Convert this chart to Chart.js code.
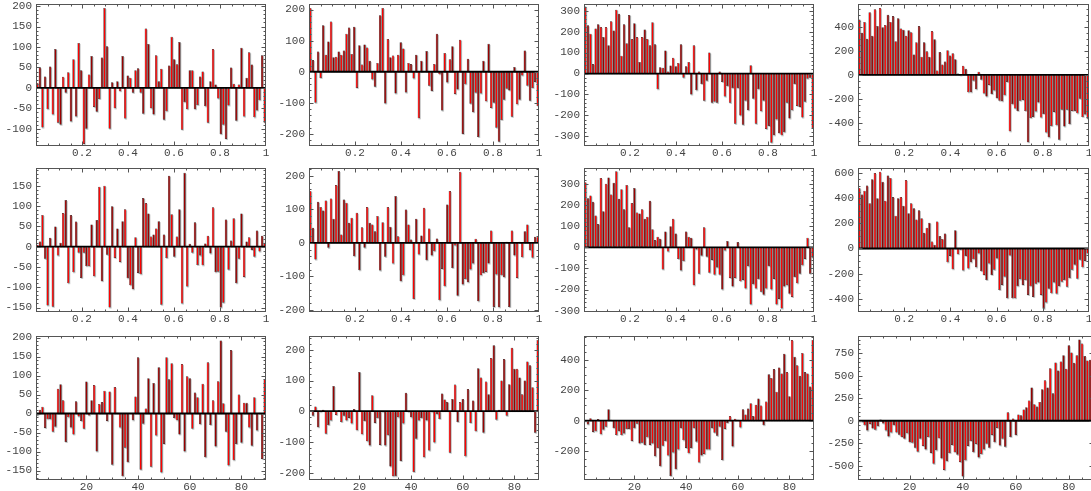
<!DOCTYPE html>
<html><head><meta charset="utf-8">
<script src="https://cdn.jsdelivr.net/npm/chart.js@4.4.0/dist/chart.umd.min.js"></script>
<style>
html,body{margin:0;padding:0;background:#fff;width:1091px;height:491px;overflow:hidden;position:relative}
canvas{position:absolute}
</style></head><body>
<script>
// ---------- data ----------
const CATEGORIES = Array.from({length: 89}, (_, i) => i + 1);
const X_TICKS_UNIT = [0.2, 0.4, 0.6, 0.8, 1];
const X_TICKS_INDEX = [20, 40, 60, 80];

const SERIES_A = [12,50,-97,28,-52,52,-65,95,-85,-90,27,-12,38,-82,70,-70,110,43,-137,-100,33,78,-47,-58,-27,74,195,102,-100,14,-50,16,-8,78,-75,30,25,-12,43,48,-12,-63,145,107,-50,-65,80,16,47,-78,-57,55,125,70,58,112,-102,-35,-52,43,43,-52,-42,28,40,-45,-85,16,95,8,-26,-113,-90,-125,-43,50,10,-80,8,98,-70,25,87,57,-72,-55,-30,80,-85];
const SERIES_B = [205,38,-100,65,-20,150,55,97,162,47,48,65,55,68,122,142,57,145,-52,85,23,88,78,35,-25,-48,28,182,205,-102,105,47,52,-70,55,95,75,-67,28,25,-22,55,-150,35,0,67,-45,-62,25,122,-8,-125,60,-35,40,82,-72,-57,103,-200,-40,42,-103,-130,-68,-210,-70,35,-95,90,-117,-100,-180,-225,-155,-90,-55,-60,-145,15,-105,-90,-12,68,-45,-93,-52,-33,-110];
const SERIES_C = [320,230,190,45,215,235,222,175,222,135,250,205,305,285,85,235,145,280,165,240,175,55,175,210,165,135,245,140,-75,30,28,110,10,38,75,35,50,140,-20,35,55,-100,135,-80,10,-50,-130,-35,100,-140,-135,-140,10,-40,-110,-60,-140,-70,-240,-70,-200,-245,-130,-175,40,-120,-240,-75,-180,-130,-265,-250,-330,-295,-220,-285,-295,-280,-140,-215,-175,-50,-155,-160,-210,-135,-25,-20,-260];
const SERIES_D = [460,350,440,300,520,325,545,405,555,395,415,500,440,490,280,470,385,375,325,370,355,170,270,405,150,270,195,150,365,295,35,190,85,110,205,160,180,130,10,-5,75,50,-145,-145,-50,-120,25,-40,-155,-180,-85,-160,-130,-195,-215,-220,-170,-60,-470,-245,-280,-300,-215,-210,-300,-560,-360,-350,-305,-230,-355,-325,-480,-520,-425,-310,-420,-540,-290,-430,-290,-410,-300,-300,-320,-200,-350,-330,-365];
const SERIES_E = [5,13,78,-30,-145,22,-148,50,-22,10,83,115,-90,78,-63,62,-15,-77,-15,-48,-48,55,-73,66,148,-85,150,-20,-150,100,-28,45,-38,63,92,-78,-95,-105,23,-65,-68,120,108,82,25,30,45,63,-143,30,-28,175,80,-25,25,92,-140,182,-98,7,-15,60,-45,-22,-46,8,27,-17,97,-63,-62,-150,-138,67,-57,15,70,-90,-30,82,-75,13,23,-8,-25,40,-12,27,10];
const SERIES_F = [155,45,-50,123,107,97,127,-15,133,72,173,215,25,130,120,60,75,-40,90,-82,47,-15,107,60,55,35,80,-83,62,-42,107,48,-62,140,20,-115,-97,100,55,10,-168,72,-35,22,105,-52,43,-38,-25,13,-172,-78,-130,115,155,-75,-8,-158,213,-125,-108,-118,-80,-62,12,-175,-97,-90,-87,-62,37,-192,-95,-193,-97,-103,3,-192,37,-38,-105,3,-43,35,55,-22,-45,18,18];
const SERIES_G = [308,232,245,215,150,110,328,170,300,330,250,305,360,230,275,180,295,95,210,280,165,160,180,135,145,220,85,35,50,40,-105,75,-20,100,135,65,-55,-110,-65,75,50,45,-180,-10,-125,-40,95,-45,-120,-60,-130,-95,-130,-200,-15,30,-145,-185,-145,25,-160,-155,-195,-90,-270,-175,-195,-150,-210,-225,-195,-90,-200,-150,-270,-245,-290,-185,-180,-220,-235,-140,-170,-125,-85,-55,45,-125,-50];
const SERIES_H = [480,430,460,500,360,550,600,400,610,530,380,580,560,410,260,400,410,340,545,280,360,320,230,305,240,125,165,205,55,30,215,100,75,120,-110,-60,-165,145,-45,-10,-175,-60,-160,-110,-85,-150,-40,-180,-210,-250,-120,-210,-170,-80,-330,-290,-225,-395,-55,-395,-395,-300,-245,-290,-250,-370,-300,-385,-280,-270,-370,-480,-430,-320,-355,-270,-360,-300,-265,-250,-305,-235,-170,-130,-240,-90,-150,-100,-40];
const SERIES_I = [-5,10,18,-38,-15,-15,-48,-35,65,77,35,-75,-10,-37,-55,32,-8,-20,-40,84,-5,35,75,-100,25,30,60,-20,58,-135,70,2,-37,-165,-90,-128,0,-18,45,148,-148,-27,13,93,-140,80,-58,122,-155,-80,148,90,132,-12,-18,-55,130,-100,98,93,-40,55,43,-28,78,-115,135,-30,35,-87,85,192,27,-48,-137,167,-123,-80,50,-77,28,28,-37,-85,43,-45,2,-120,90];
const SERIES_J = [0,-15,15,-52,-3,5,-73,-45,-30,82,-12,3,-35,-15,-30,-22,-40,7,-62,128,-75,-32,-98,-112,52,-38,-22,-110,-3,-112,-78,-180,-212,-212,-20,-162,-40,60,-3,-20,-198,-90,-30,-22,-150,-30,-128,-3,-102,-10,-25,58,38,30,-135,40,87,-35,30,40,-147,72,-38,35,-65,140,110,-70,97,55,173,215,-28,5,100,170,-15,88,207,138,138,110,55,100,162,150,78,-70,232];
const SERIES_K = [-5,-25,15,-75,-70,10,-90,-60,-40,75,5,-50,-95,-70,-95,-85,-55,-55,-135,-50,-20,-150,-145,-160,-110,-160,-150,-235,-180,-300,-165,-135,-230,-365,-210,-320,-190,-50,-130,-180,-215,-180,-50,-140,-275,-230,-220,-190,-190,-50,-80,-100,-40,-260,-55,-15,30,-170,12,5,-45,75,40,80,115,30,105,145,100,-30,125,305,280,340,190,350,310,440,320,160,530,420,365,295,445,320,310,225,530];
const SERIES_L = [-10,-15,-50,-110,-35,-85,-100,-60,15,-30,-110,-175,-130,-50,-130,-155,-180,-200,-140,-240,-245,-300,-345,-200,-280,-320,-180,-360,-480,-330,-195,-420,-550,-450,-360,-270,-350,-380,-460,-620,-440,-280,-225,-350,-260,-410,-370,-320,-255,-300,-160,-240,-80,-275,-200,-290,95,-180,25,-160,70,60,125,150,225,370,185,160,210,350,450,370,585,305,650,560,660,730,580,840,760,645,730,905,860,720,670,680,740];

const Y_TICKS_A = [-100,-50,0,50,100,150,200];
const Y_TICKS_B = [-200,-100,0,100,200];
const Y_TICKS_C = [-300,-200,-100,0,100,200,300];
const Y_TICKS_D = [-400,-200,0,200,400];
const Y_TICKS_E = [-150,-100,-50,0,50,100,150];
const Y_TICKS_F = [-200,-100,0,100,200];
const Y_TICKS_G = [-300,-200,-100,0,100,200,300];
const Y_TICKS_H = [-400,-200,0,200,400,600];
const Y_TICKS_I = [-150,-100,-50,0,50,100,150,200];
const Y_TICKS_J = [-200,-100,0,100,200];
const Y_TICKS_K = [-200,0,200,400];
const Y_TICKS_L = [-500,-250,0,250,500,750];

// ---------- layout / style ----------
const RED = '#ff0000', DARK = '#9a0000';
const ROWS = [[4,146],[168,312],[336,480]];
const COLS = [[36,266],[309,539],[584,814],[858,1089]];

const PANELS = [
  {r:0,c:0,v:SERIES_A,yt:Y_TICKS_A,ymin:-142,ymax:205,ym:10},
  {r:0,c:1,v:SERIES_B,yt:Y_TICKS_B,ymin:-239,ymax:218,ym:20},
  {r:0,c:2,v:SERIES_C,yt:Y_TICKS_C,ymin:-346,ymax:332,ym:20},
  {r:0,c:3,v:SERIES_D,yt:Y_TICKS_D,ymin:-592,ymax:589,ym:50},
  {r:1,c:0,v:SERIES_E,yt:Y_TICKS_E,ymin:-161,ymax:194,ym:10},
  {r:1,c:1,v:SERIES_F,yt:Y_TICKS_F,ymin:-207,ymax:224,ym:20},
  {r:1,c:2,v:SERIES_G,yt:Y_TICKS_G,ymin:-306,ymax:375,ym:20},
  {r:1,c:3,v:SERIES_H,yt:Y_TICKS_H,ymin:-505,ymax:640,ym:50},
  {r:2,c:0,v:SERIES_I,yt:Y_TICKS_I,ymin:-175,ymax:204,ym:10},
  {r:2,c:1,v:SERIES_J,yt:Y_TICKS_J,ymin:-224,ymax:245,ym:20},
  {r:2,c:2,v:SERIES_K,yt:Y_TICKS_K,ymin:-391,ymax:557,ym:50},
  {r:2,c:3,v:SERIES_L,yt:Y_TICKS_L,ymin:-660,ymax:944,ym:50,rightOver:5}
];

Chart.defaults.font.family = '"Liberation Mono","DejaVu Sans Mono",monospace';
Chart.defaults.font.size = 11;
Chart.defaults.color = '#444';

function between(min, max, step, skip) {
  const out = [];
  for (let v = Math.ceil(min / step - 1e-9) * step; v <= max + 1e-9; v += step) {
    if (!skip.some(s => Math.abs(s - v) < step * 1e-3)) out.push(v);
  }
  return out;
}

const framePlugin = {
  id: 'frame',
  beforeDatasetsDraw(chart) {
    const ctx = chart.ctx, a = chart.chartArea, meta = chart.getDatasetMeta(0);
    ctx.save();
    ctx.beginPath(); ctx.rect(a.left, a.top, a.right - a.left, a.bottom - a.top); ctx.clip();
    ctx.fillStyle = '#c4c4c4';
    meta.data.forEach(el => {
      const p = el.getProps(['x','y','base','width'], true);
      const top = Math.min(p.y, p.base), h = Math.abs(p.y - p.base);
      ctx.fillRect(p.x - p.width / 2 + 0.8, top + 1, p.width, h);
    });
    ctx.restore();
  },
  afterDatasetsDraw(chart) {
    const ctx = chart.ctx, a = chart.chartArea, ys = chart.scales.y;
    const y0 = ys.getPixelForValue(0);
    ctx.save();
    ctx.strokeStyle = '#000'; ctx.lineWidth = 1.8;
    ctx.beginPath(); ctx.moveTo(a.left, y0); ctx.lineTo(a.right, y0); ctx.stroke();
    ctx.restore();
  },
  afterDraw(chart, args, o) {
    const ctx = chart.ctx, a = chart.chartArea, ys = chart.scales.y, xs = chart.scales.xt;
    ctx.save();
    ctx.strokeStyle = '#555'; ctx.lineWidth = 1;
    const L = Math.round(a.left) + 0.5, R = Math.round(a.right) - 0.5;
    const T = Math.round(a.top) + 0.5, B = Math.round(a.bottom) - 0.5;
    ctx.strokeRect(L, T, R - L, B - T);
    const line = (x1, y1, x2, y2) => { ctx.beginPath(); ctx.moveTo(x1, y1); ctx.lineTo(x2, y2); ctx.stroke(); };
    const yt = (v, len) => { const py = Math.round(ys.getPixelForValue(v)) + 0.5; if (py < T || py > B) return; line(L, py, L + len, py); line(R, py, R - len, py); };
    const xt = (v, len) => { const px = Math.round(xs.getPixelForValue(v)) + 0.5; if (px < L || px > R) return; line(px, B, px, B - len); line(px, T, px, T + len); };
    o.yMajor.forEach(v => yt(v, 4));
    between(ys.min, ys.max, o.yMinor, o.yMajor).forEach(v => yt(v, 2));
    o.xMajor.forEach(v => xt(v, 4));
    between(xs.min, xs.max, o.xMinor, o.xMajor).forEach(v => xt(v, 2));
    ctx.restore();
  }
};

PANELS.forEach(p => {
  const [T, B] = ROWS[p.r];
  const [L, Rr] = COLS[p.c];
  const R = Rr + (p.rightOver || 0);
  const W = R - L + 48, H = B - T + 22;
  const cv = document.createElement('canvas');
  cv.width = W; cv.height = H;
  cv.style.left = (L - 40) + 'px'; cv.style.top = (T - 4) + 'px';
  cv.style.width = W + 'px'; cv.style.height = H + 'px';
  document.body.appendChild(cv);
  const bottomRow = p.r === 2;
  const xTicks = bottomRow ? X_TICKS_INDEX : X_TICKS_UNIT;
  new Chart(cv, {
    type: 'bar',
    data: {
      labels: CATEGORIES,
      datasets: [{
        data: p.v,
        backgroundColor: ctx => (ctx.dataIndex % 2 ? DARK : RED),
        borderColor: '#000',
        borderWidth: 0.5,
        borderSkipped: false,
        barPercentage: 0.9,
        categoryPercentage: 1
      }]
    },
    options: {
      responsive: false,
      animation: false,
      devicePixelRatio: 1,
      events: [],
      layout: {padding: {left: 0, top: 4, right: 8, bottom: 0}},
      plugins: {
        legend: {display: false},
        tooltip: {enabled: false},
        frame: {yMajor: p.yt, yMinor: p.ym, xMajor: xTicks, xMinor: bottomRow ? 5 : 0.05}
      },
      scales: {
        x: {display: false},
        xt: {
          type: 'linear', axis: 'x', position: 'bottom', offset: false,
          min: bottomRow ? 0.5 : 0, max: bottomRow ? 89.5 : 1,
          grid: {display: false, drawTicks: false, offset: false},
          border: {display: false},
          afterBuildTicks: s => { s.ticks = xTicks.map(v => ({value: v})); },
          afterFit: s => { s.height = 18; s.paddingLeft = 0; s.paddingRight = 0; },
          ticks: {padding: 0, maxRotation: 0, autoSkip: false,
            callback: v => (bottomRow ? String(v) : (v === 1 ? '1' : v.toFixed(1)))}
        },
        y: {
          min: p.ymin, max: p.ymax,
          grid: {display: false, drawTicks: false},
          border: {display: false},
          afterBuildTicks: s => { s.ticks = p.yt.map(v => ({value: v})); },
          afterFit: s => { s.width = 40; s.paddingTop = 0; s.paddingBottom = 0; },
          ticks: {padding: 4, autoSkip: false, callback: v => String(v)}
        }
      }
    },
    plugins: [framePlugin]
  });
});
</script>
</body></html>
